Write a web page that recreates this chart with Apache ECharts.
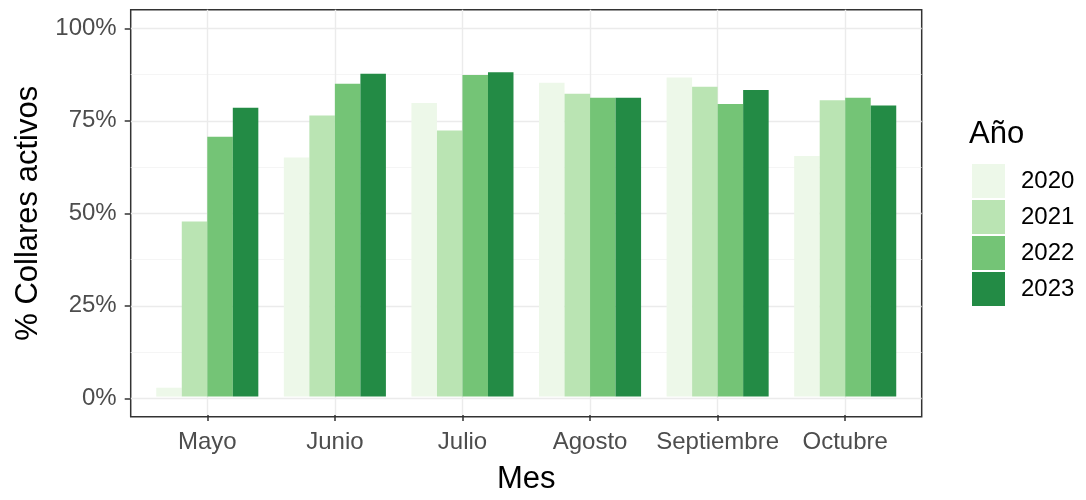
<!DOCTYPE html>
<html>
<head>
<meta charset="utf-8">
<script src="https://cdn.jsdelivr.net/npm/echarts@6/dist/echarts.min.js"></script>
<style>
  html, body { margin: 0; padding: 0; background: #fff; }
  #chart { width: 1086px; height: 500px; }
</style>
</head>
<body>
<div id="chart"></div>
<script>
var months = ['Mayo', 'Junio', 'Julio', 'Agosto', 'Septiembre', 'Octubre'];
var years = ['2020', '2021', '2022', '2023'];
var yearColors = ['#edf8e9', '#bae4b3', '#74c476', '#238b45'];
var yTicks = [0, 25, 50, 75, 100];

// % collares activos por mes y año
var v2020 = [2.4, 64.9, 79.7, 85.2, 86.6, 65.3];
var v2021 = [47.5, 76.3, 72.2, 82.2, 84.1, 80.4];
var v2022 = [70.5, 84.9, 87.3, 81.1, 79.4, 81.1];
var v2023 = [78.4, 87.6, 88.0, 81.1, 83.2, 79.0];
var values = [v2020, v2021, v2022, v2023];

var font = 'Liberation Sans, Arial, sans-serif';
var chart = echarts.init(document.getElementById('chart'));

var series = years.map(function (y, i) {
  return {
    name: y,
    type: 'bar',
    xAxisIndex: 0,
    yAxisIndex: 0,
    barGap: '0%',
    barCategoryGap: '20%',
    itemStyle: { color: yearColors[i] },
    data: values[i]
  };
});
// lineas verticales de la rejilla en el centro de cada mes
series.push({
  name: 'rejilla',
  type: 'line',
  xAxisIndex: 0,
  yAxisIndex: 0,
  data: [],
  markLine: {
    silent: true,
    symbol: 'none',
    z: 1,
    label: { show: false },
    lineStyle: { color: '#ebebeb', width: 1.4, type: 'solid' },
    data: months.map(function (m) { return { xAxis: m }; })
  }
});

var option = {
  animation: false,
  textStyle: { fontFamily: font },
  title: {
    text: 'Año',
    left: 964,
    top: 114,
    textStyle: { fontSize: 31, fontWeight: 'normal', color: '#000', fontFamily: font }
  },
  legend: {
    orient: 'vertical',
    left: 967,
    top: 159,
    icon: 'rect',
    itemWidth: 33,
    itemHeight: 34,
    itemGap: 2,
    data: years,
    textStyle: { fontSize: 24, color: '#000', padding: [0, 0, 0, 11], fontFamily: font }
  },
  grid: [
    // barras (rango 0.5..6.5 del eje discreto)
    { left: 143.5, right: 177, top: 9.7, bottom: 83.3 },
    // eje y 0..100
    { left: 130.7, right: 164.3, top: 28.3, bottom: 101.7 },
    // borde del panel
    { left: 130.7, right: 164.3, top: 9.7, bottom: 83.3, show: true,
      borderColor: '#333333', borderWidth: 1.5, backgroundColor: 'transparent' }
  ],
  xAxis: [
    {
      type: 'category',
      gridIndex: 0,
      data: months,
      axisLine: { show: false, onZero: false },
      axisTick: { show: true, alignWithLabel: true, interval: 0, length: 6,
        lineStyle: { color: '#333333', width: 1.5 } },
      axisLabel: { interval: 0, fontSize: 24, color: '#4d4d4d', margin: 15, fontFamily: font },
      splitLine: { show: false },
      name: 'Mes',
      nameLocation: 'middle',
      nameGap: 49,
      nameTextStyle: { fontSize: 31, color: '#000', fontFamily: font }
    },
    { type: 'value', gridIndex: 1, show: false, min: 0, max: 1 },
    { type: 'value', gridIndex: 2, show: false, min: 0, max: 1 }
  ],
  yAxis: [
    { type: 'value', gridIndex: 0, min: -5, max: 105, show: false },
    {
      type: 'value',
      gridIndex: 1,
      min: 0,
      max: 100,
      interval: 25,
      axisLine: { show: false },
      axisTick: { show: true, length: 6, lineStyle: { color: '#333333', width: 1.5 } },
      axisLabel: {
        fontSize: 24, color: '#4d4d4d', margin: 14, fontFamily: font,
        formatter: function (v) { return yTicks.indexOf(v) >= 0 ? v + '%' : ''; }
      },
      splitLine: { show: true, lineStyle: { color: '#ebebeb', width: 1.4 } },
      minorTick: { show: false, splitNumber: 2 },
      minorSplitLine: { show: true, lineStyle: { color: '#f2f2f2', width: 0.8 } },
      name: '% Collares activos',
      nameLocation: 'middle',
      nameRotate: 90,
      nameGap: 86,
      nameTextStyle: { fontSize: 31, color: '#000', fontFamily: font }
    },
    { type: 'value', gridIndex: 2, show: false, min: 0, max: 1 }
  ],
  series: series
};

chart.setOption(option);
</script>
</body>
</html>
